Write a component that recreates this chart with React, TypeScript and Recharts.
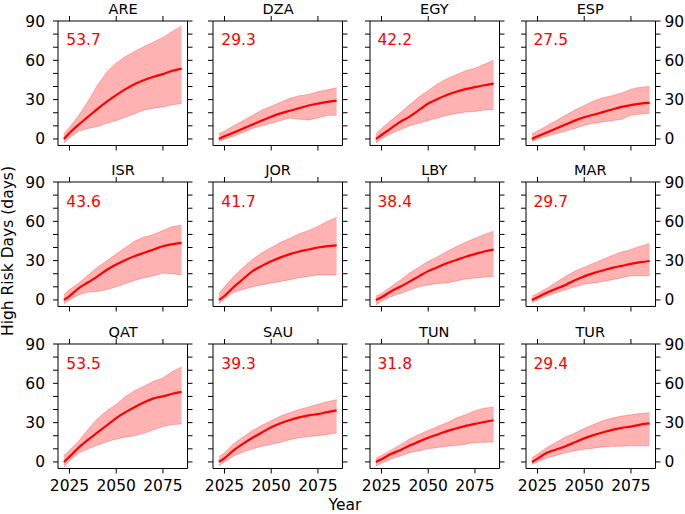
/**
 * High risk days per country, 3x4 small multiples.
 * Mean projection line with the model spread as a shaded band.
 */
import { ComposedChart, Area, Line, XAxis, YAxis } from "recharts";

const YEARS = [2022, 2025, 2030, 2035, 2040, 2045, 2050, 2055, 2060, 2065, 2070, 2075, 2080, 2085];
const X_TICKS = [2025, 2050, 2075];
const Y_TICKS = [0, 10, 20, 30, 40, 50, 60, 70, 80, 90];

const ARE_MEAN = [0, 4.5, 11, 17, 23, 28.5, 33.5, 38, 42, 45, 47.5, 49.5, 52, 53.7];
const ARE_LOW = [-3, 1, 6, 8, 9.5, 12, 14, 16.5, 19.5, 22, 23.5, 24.5, 26, 27];
const ARE_HIGH = [4, 9, 18, 29, 41, 51, 58, 63, 67, 70.5, 74, 77.5, 82, 86];

const DZA_MEAN = [0, 2, 5, 8, 11, 14, 17, 19.5, 21.5, 23.5, 25.5, 27, 28.3, 29.3];
const DZA_LOW = [-2, 0, 2, 5, 8, 10, 12, 14, 16, 15, 14.5, 16, 18, 18];
const DZA_HIGH = [4, 6, 10, 14, 18, 22, 25, 28, 31, 33, 34, 36, 37.5, 39];

const EGY_MEAN = [0, 3, 8, 13, 17, 22, 27, 30.5, 33.5, 36, 38, 39.5, 41, 42.2];
const EGY_LOW = [-3, 0, 4, 7, 10, 12, 14, 16, 18, 19.5, 20.5, 21, 22, 22.5];
const EGY_HIGH = [4, 8, 14, 20, 26, 32, 37, 42, 46, 49, 52, 54, 57, 60];

const ESP_MEAN = [0, 2, 5, 8, 11, 14, 16.5, 18.5, 20.5, 22.5, 24.5, 25.8, 27, 27.5];
const ESP_LOW = [-2, 0, 2, 4, 6, 8, 10.5, 12, 13, 14, 15, 18, 19, 19.5];
const ESP_HIGH = [4, 6, 10, 14, 18, 22, 25.5, 29, 31.5, 33, 35, 38, 39.5, 40];

const ISR_MEAN = [0, 3, 9, 13.5, 18, 23, 27, 30.5, 33.5, 36, 38.5, 41, 42.5, 43.6];
const ISR_LOW = [-3, 0, 4, 6, 6.5, 8, 10, 12.5, 15, 17, 18.5, 20.5, 20, 19];
const ISR_HIGH = [4, 8, 13, 19, 25, 30, 35, 40, 45, 48, 50, 53, 56, 57];

const JOR_MEAN = [0, 3, 10, 16, 22, 26, 29.5, 32.5, 35, 37, 38.5, 40, 41, 41.7];
const JOR_LOW = [-3, 1, 6, 8, 10, 11.5, 13, 14, 15.5, 17, 18, 19, 19, 19];
const JOR_HIGH = [5, 10, 18, 25, 31, 36, 40, 44, 47, 50.5, 53, 56, 60, 63];

const LBY_MEAN = [0, 2, 6.5, 10, 14, 18, 22, 25, 28, 30.5, 33, 35, 37, 38.4];
const LBY_LOW = [-4, -1, 2.5, 5, 7.5, 10, 11.5, 12.5, 13, 14.5, 16, 16.7, 17.5, 18];
const LBY_HIGH = [3, 5, 10, 15, 20.5, 25, 29.5, 33, 37, 40.5, 44, 47, 50, 52.5];

const MAR_MEAN = [0, 2, 5.5, 8.5, 11.5, 15, 18, 20.5, 22.5, 24.5, 26, 27.5, 28.8, 29.7];
const MAR_LOW = [-2, 0, 3, 5.5, 7.7, 10, 12, 13, 14, 15.5, 17, 18.5, 18.5, 18.5];
const MAR_HIGH = [3, 5, 9, 13.5, 18, 22, 25, 28, 31, 34, 36.5, 38.5, 41, 43];

const QAT_MEAN = [0, 4, 11, 17, 22.5, 28, 33.5, 38, 42, 45.5, 48.5, 50, 52, 53.5];
const QAT_LOW = [-4, 1, 7, 10, 13, 15.5, 17.5, 19, 20, 22, 24.5, 27, 28.5, 29];
const QAT_HIGH = [5, 9, 16, 25, 33, 39, 44, 50, 54.5, 58, 61.5, 64, 69, 72.5];

const SAU_MEAN = [0, 3, 9, 14, 18.5, 22.5, 26.5, 29.5, 32, 34, 35.5, 36.5, 38, 39.3];
const SAU_LOW = [-3, 0, 4.5, 7.5, 10, 12, 13.5, 15, 17, 18.5, 19.5, 20, 21, 22];
const SAU_HIGH = [4, 7, 14, 19, 24, 28, 31.5, 35, 37.5, 40, 42, 44, 46, 47.5];

const TUN_MEAN = [0, 2, 6, 9, 12.5, 15.5, 18.5, 21, 23.5, 25.5, 27.5, 29, 30.5, 31.8];
const TUN_LOW = [-3, -1, 2, 4.5, 7, 8.5, 10, 11, 12, 12.5, 13.5, 14.8, 15, 15.3];
const TUN_HIGH = [3, 5, 9, 13, 17.5, 21, 24, 27, 30, 33.5, 36, 39, 41, 42];

const TUR_MEAN = [0, 2.5, 7, 9.5, 12, 15, 18, 20.5, 22.5, 24.5, 26, 27, 28.5, 29.4];
const TUR_LOW = [-2, 0, 3, 5, 7, 8.5, 9.7, 10.5, 11.5, 12, 12, 12.3, 12.3, 12.3];
const TUR_HIGH = [3, 6, 11, 15, 19, 22, 25.5, 28.5, 31.5, 33.5, 35, 36, 37, 37.5];

const PANELS = [
  { code: "ARE", mean: ARE_MEAN, low: ARE_LOW, high: ARE_HIGH },
  { code: "DZA", mean: DZA_MEAN, low: DZA_LOW, high: DZA_HIGH },
  { code: "EGY", mean: EGY_MEAN, low: EGY_LOW, high: EGY_HIGH },
  { code: "ESP", mean: ESP_MEAN, low: ESP_LOW, high: ESP_HIGH },
  { code: "ISR", mean: ISR_MEAN, low: ISR_LOW, high: ISR_HIGH },
  { code: "JOR", mean: JOR_MEAN, low: JOR_LOW, high: JOR_HIGH },
  { code: "LBY", mean: LBY_MEAN, low: LBY_LOW, high: LBY_HIGH },
  { code: "MAR", mean: MAR_MEAN, low: MAR_LOW, high: MAR_HIGH },
  { code: "QAT", mean: QAT_MEAN, low: QAT_LOW, high: QAT_HIGH },
  { code: "SAU", mean: SAU_MEAN, low: SAU_LOW, high: SAU_HIGH },
  { code: "TUN", mean: TUN_MEAN, low: TUN_LOW, high: TUN_HIGH },
  { code: "TUR", mean: TUR_MEAN, low: TUR_LOW, high: TUR_HIGH },
];

// layout of the panel grid (plot boxes, page px)
const COL_LEFT = [58.3, 213.3, 369.5, 525.5];
const ROW_TOP = [20.5, 182.3, 344];
const PW = 129.5;
const PH = 124.5;
const PAD_L = 40;
const PAD_R = 40;
const PAD_T = 20;
const PAD_B = 28;

const FONT = "'DejaVu Sans', sans-serif";
const FS = 15.5;
const TITLE_FS = 14.5;
const tickStyle = { fill: "#000", fontSize: FS };
const noLabel = () => "";
const every30 = (v: number) => (v % 30 === 0 ? String(v) : "");

function Panel({ index }: { index: number }) {
  const p = PANELS[index];
  const row = Math.floor(index / 4);
  const col = index % 4;
  const data = YEARS.map((year, i) => ({
    year,
    mean: p.mean[i],
    band: [p.low[i], p.high[i]],
  }));

  return (
    <div style={{ position: "absolute", left: COL_LEFT[col] - PAD_L, top: ROW_TOP[row] - PAD_T }}>
      <ComposedChart
        width={PW + PAD_L + PAD_R}
        height={PH + PAD_T + PAD_B}
        data={data}
        margin={{ top: 0, right: 0, bottom: 0, left: 0 }}
      >
        <XAxis
          xAxisId="b"
          dataKey="year"
          type="number"
          domain={[2018.85, 2088.15]}
          ticks={X_TICKS}
          interval={0}
          orientation="bottom"
          height={PAD_B}
          stroke="#000"
          tickSize={5}
          tickMargin={6}
          tick={tickStyle}
          tickFormatter={row === 2 ? (v: number) => String(v) : noLabel}
        />
        <XAxis
          xAxisId="t"
          dataKey="year"
          type="number"
          domain={[2018.85, 2088.15]}
          ticks={X_TICKS}
          interval={0}
          orientation="top"
          height={PAD_T}
          stroke="#000"
          tickSize={5}
          tick={tickStyle}
          tickFormatter={noLabel}
        />
        <YAxis
          yAxisId="l"
          type="number"
          domain={[-5, 90]}
          ticks={Y_TICKS}
          interval={0}
          width={PAD_L}
          stroke="#000"
          tickSize={5}
          tickMargin={8}
          tick={tickStyle}
          tickFormatter={col === 0 ? every30 : noLabel}
        />
        <YAxis
          yAxisId="r"
          orientation="right"
          type="number"
          domain={[-5, 90]}
          ticks={Y_TICKS}
          interval={0}
          width={PAD_R}
          stroke="#000"
          tickSize={5}
          tickMargin={4}
          tick={tickStyle}
          tickFormatter={col === 3 ? every30 : noLabel}
        />
        <Area
          xAxisId="b"
          yAxisId="l"
          dataKey="band"
          type="linear"
          fill="#ff0000"
          fillOpacity={0.3}
          stroke="#ff0000"
          strokeOpacity={0.25}
          strokeWidth={1}
          isAnimationActive={false}
        />
        <Line
          xAxisId="t"
          yAxisId="r"
          dataKey="mean"
          type="monotone"
          stroke="#ff0000"
          strokeWidth={2.2}
          dot={false}
          isAnimationActive={false}
        />
      </ComposedChart>
    </div>
  );
}

export default function App() {
  return (
    <div style={{ position: "absolute", left: 0, top: 0, width: 685, height: 514, background: "#fff", fontFamily: FONT }}>
      {PANELS.map((p, i) => (
        <Panel key={p.code} index={i} />
      ))}
      <svg width={685} height={514} style={{ position: "absolute", left: 0, top: 0, pointerEvents: "none" }}>
        {PANELS.map((p, i) => {
          const x = COL_LEFT[i % 4];
          const y = ROW_TOP[Math.floor(i / 4)];
          return (
            <g key={p.code} fontFamily={FONT}>
              <text x={x + PW / 2} y={y - 7} textAnchor="middle" fill="#000" fontSize={TITLE_FS}>
                {p.code}
              </text>
              <text x={x + 8} y={y + 24.5} fill="#ff0000" fontSize={FS}>
                {p.mean[p.mean.length - 1].toFixed(1)}
              </text>
            </g>
          );
        })}
        <text x={345} y={510} textAnchor="middle" fontFamily={FONT} fontSize={FS} fill="#000">
          Year
        </text>
        <text
          x={0}
          y={0}
          transform="translate(13, 251) rotate(-90)"
          textAnchor="middle"
          fontFamily={FONT}
          fontSize={FS}
          fill="#000"
        >
          High Risk Days (days)
        </text>
      </svg>
    </div>
  );
}
